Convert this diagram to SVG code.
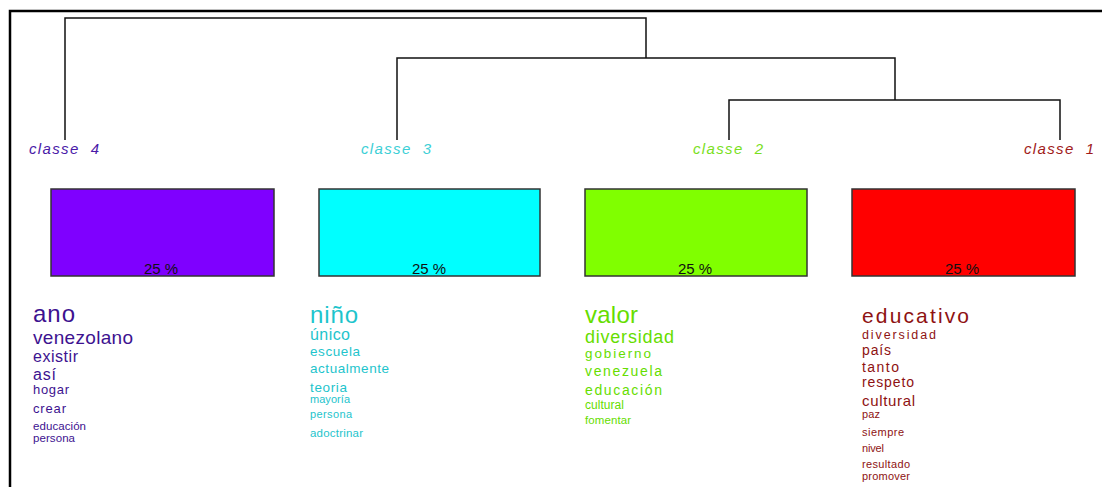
<svg xmlns="http://www.w3.org/2000/svg" width="1102" height="487" viewBox="0 0 1102 487">
<style>
text{font-family:"Liberation Sans",Arial,sans-serif}
.lbl{font-size:15px;font-style:italic;text-anchor:middle;white-space:pre}
.box{stroke:#333;stroke-width:1.5}
.pct{font-size:15px;fill:#111;text-anchor:middle}
.c4{fill:#3d1290}
.c3{fill:#1ec4cc}
.c2{fill:#66dd00}
.c1{fill:#8e1212}
.link{fill:none;stroke:#111;stroke-width:1.5}
</style>
<rect x="0" y="0" width="1102" height="487" fill="#fff"/>
<rect x="10" y="11" width="1100" height="490" fill="none" stroke="#000" stroke-width="2.5"/>
<g id="connectors">
<path class="link" d="M65,140V18H646V58M397,140V58H895V100M729,140V100H1060V140"/>
</g>
<g id="class4">
<text class="lbl" x="64" y="154" style="fill:#4a1aa8" textLength="70">classe  4</text>
<rect class="box" x="51" y="189" width="223" height="87" fill="#7f00ff"/>
<text class="pct" x="161" y="274">25 %</text>
<g class="c4">
<text x="33" y="322" font-size="24" textLength="42">ano</text>
<text x="33" y="344" font-size="19" textLength="100">venezolano</text>
<text x="33" y="362" font-size="16" textLength="45">existir</text>
<text x="33" y="380" font-size="16" textLength="23">así</text>
<text x="33" y="394" font-size="13" textLength="36">hogar</text>
<text x="33" y="413" font-size="13" textLength="33">crear</text>
<text x="33" y="430" font-size="11.5" textLength="53">educación</text>
<text x="33" y="442" font-size="11.5" textLength="42">persona</text>
</g>
</g>
<g id="class3">
<text class="lbl" x="396" y="154" style="fill:#3ccfd6" textLength="70">classe  3</text>
<rect class="box" x="319" y="189" width="221" height="87" fill="#00ffff"/>
<text class="pct" x="429" y="274">25 %</text>
<g class="c3">
<text x="310" y="323" font-size="24" textLength="48">niño</text>
<text x="310" y="340" font-size="16" textLength="40">único</text>
<text x="310" y="356" font-size="13.5" textLength="50">escuela</text>
<text x="310" y="373" font-size="13.5" textLength="79">actualmente</text>
<text x="310" y="392" font-size="13.5" textLength="37">teoria</text>
<text x="310" y="403" font-size="11" textLength="40">mayoría</text>
<text x="310" y="418" font-size="11" textLength="42">persona</text>
<text x="310" y="437" font-size="11.5" textLength="53">adoctrinar</text>
</g>
</g>
<g id="class2">
<text class="lbl" x="728" y="154" style="fill:#7ae01e" textLength="70">classe  2</text>
<rect class="box" x="585" y="189" width="222" height="87" fill="#80ff00"/>
<text class="pct" x="695" y="274">25 %</text>
<g class="c2">
<text x="585" y="323" font-size="24" textLength="53">valor</text>
<text x="585" y="343" font-size="18" textLength="89">diversidad</text>
<text x="585" y="358" font-size="13.5" textLength="66">gobierno</text>
<text x="585" y="376" font-size="14" textLength="77">venezuela</text>
<text x="585" y="395" font-size="14" textLength="77">educación</text>
<text x="585" y="409" font-size="12" textLength="39">cultural</text>
<text x="585" y="424" font-size="11.5" textLength="46">fomentar</text>
</g>
</g>
<g id="class1">
<text class="lbl" x="1059" y="154" style="fill:#a01a1a" textLength="70">classe  1</text>
<rect class="box" x="852" y="189" width="223" height="87" fill="#ff0000"/>
<text class="pct" x="962" y="274">25 %</text>
<g class="c1">
<text x="862" y="323" font-size="21" textLength="107">educativo</text>
<text x="862" y="339" font-size="12.5" textLength="74">diversidad</text>
<text x="862" y="355" font-size="14" textLength="29">país</text>
<text x="862" y="372" font-size="14" textLength="37">tanto</text>
<text x="862" y="387" font-size="14" textLength="52">respeto</text>
<text x="862" y="406" font-size="15" textLength="53">cultural</text>
<text x="862" y="418" font-size="11" textLength="18">paz</text>
<text x="862" y="436" font-size="11" textLength="42">siempre</text>
<text x="862" y="452" font-size="11" textLength="22">nivel</text>
<text x="862" y="468" font-size="11" textLength="48">resultado</text>
<text x="862" y="480" font-size="11" textLength="48">promover</text>
</g>
</g>
</svg>
